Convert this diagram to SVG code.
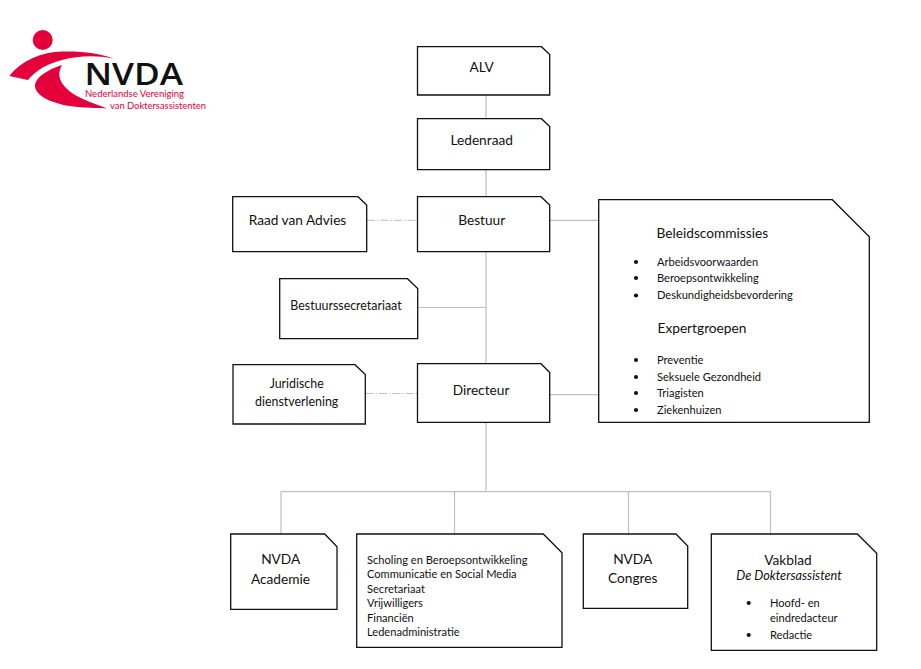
<svg xmlns="http://www.w3.org/2000/svg" width="921" height="669" viewBox="0 0 921 669">
<style>
.box{fill:#fff;stroke:#111;stroke-width:1.3;stroke-linejoin:miter}
.c{fill:none;stroke:#bfbfbf;stroke-width:1.2}
.d{fill:none;stroke:#bfbfbf;stroke-width:1;stroke-dasharray:8 2 1.5 2}
text{font-family:Lato,"Liberation Sans",sans-serif;fill:#111}
.l{font-size:13.7px}
.m{font-size:12.4px}
.s{font-size:11.1px}
.mid{text-anchor:middle}
.b{fill:#111}
.logo{fill:#e4003a}
.rt{fill:#e4003a;font-size:9.4px}
</style>
<g id="connectors">
<path class="c" d="M486 95V119M486 170V197M486 252V364M486 422V491.7M550 220.3H599M550 394.7H599M418 307.5H486M281 491.7H770.5M281 491.7V534M454.5 491.7V534M628.5 491.7V534M770.5 491.7V534"/>
<path class="d" d="M367 220.3H417.5M365.5 393.5H417.5"/>
</g>
<g id="logo">
<circle class="logo" cx="42.7" cy="40" r="10"/>
<path class="logo" d="M9.3 76C22 60 42 52 62 51.500C82 51 100 53 113 58.500C95 55 78 56 62 60C48 63.500 36 70 28 80Z"/>
<path class="logo" d="M62 65C47 70 36 77 35 85C34.500 95 50 103 70 106C85 108 97 108 107 108.500C90 102 74 97 65 87C58 79 58 72 62 65Z"/>
<text x="84.500" y="85" font-size="30" font-weight="600" style="font-family:'Open Sans',sans-serif" textLength="98.500" lengthAdjust="spacingAndGlyphs">NVDA</text>
<text class="rt" x="85" y="96.500" textLength="99" lengthAdjust="spacingAndGlyphs">Nederlandse Vereniging</text>
<text class="rt" x="110" y="109" textLength="96" lengthAdjust="spacingAndGlyphs">van Doktersassistenten</text>
</g>
<g id="alv"><path class="box" d="M417.500 46.700H541.500L549.700 54.500V95H417.500Z"/><text class="l mid" x="481.700" y="72">ALV</text></g>
<g id="ledenraad"><path class="box" d="M417.500 118.700H541.500L549.700 126.500V169.700H417.500Z"/><text class="l mid" x="481.700" y="145">Ledenraad</text></g>
<g id="bestuur"><path class="box" d="M417.500 196.700H541L549.700 205V251.700H417.500Z"/><text class="l mid" x="481.700" y="225">Bestuur</text></g>
<g id="raad"><path class="box" d="M232.700 196.700H358L366.700 205V251.700H232.700Z"/><text class="l mid" x="297.500" y="225">Raad van Advies</text></g>
<g id="secretariaat"><path class="box" d="M279.700 278.700H407.500L417.700 288.500V338.700H279.700Z"/><text class="m mid" x="346" y="310">Bestuurssecretariaat</text></g>
<g id="juridisch"><path class="box" d="M233 364.700H355L365.300 374.500V424H233Z"/><text class="m mid" x="296.700" y="388">Juridische</text><text class="m mid" x="296.700" y="406">dienstverlening</text></g>
<g id="directeur"><path class="box" d="M417.500 363.700H541L549.700 372.500V422.300H417.500Z"/><text class="l mid" x="481" y="395">Directeur</text></g>
<g id="commissies"><path class="box" d="M598.700 199.700H832.300L869.300 236.700V422.300H598.700Z"/>
<text class="l" x="656.500" y="238">Beleidscommissies</text>
<text class="s" x="657" y="266">Arbeidsvoorwaarden</text><circle class="b" cx="636" cy="262" r="2.100"/>
<text class="s" x="657" y="282">Beroepsontwikkeling</text><circle class="b" cx="636" cy="278" r="2.100"/>
<text class="s" x="657" y="299">Deskundigheidsbevordering</text><circle class="b" cx="636" cy="295.500" r="2.100"/>
<text class="l" x="657.500" y="333">Expertgroepen</text>
<text class="s" x="657" y="364">Preventie</text><circle class="b" cx="636" cy="360" r="2.100"/>
<text class="s" x="657" y="381">Seksuele Gezondheid</text><circle class="b" cx="636" cy="377" r="2.100"/>
<text class="s" x="657" y="397">Triagisten</text><circle class="b" cx="636" cy="393" r="2.100"/>
<text class="s" x="657" y="414">Ziekenhuizen</text><circle class="b" cx="636" cy="410" r="2.100"/></g>
<g id="academie"><path class="box" d="M230.700 534H324.700L337 546.700V609.300H230.700Z"/><text class="l mid" x="280.700" y="564">NVDA</text><text class="l mid" x="280.500" y="584">Academie</text></g>
<g id="bureau"><path class="box" d="M356.700 534H543.300L562 552.700V647.300H356.700Z"/>
<text class="s" x="367" y="563.500">Scholing en Beroepsontwikkeling</text>
<text class="s" x="367" y="578">Communicatie en Social Media</text>
<text class="s" x="367" y="593">Secretariaat</text>
<text class="s" x="367" y="607">Vrijwilligers</text>
<text class="s" x="367" y="622">Financiën</text>
<text class="s" x="367" y="636">Ledenadministratie</text></g>
<g id="congres"><path class="box" d="M583.300 534H676L687.700 546V608.300H583.300Z"/><text class="l mid" x="632.700" y="564">NVDA</text><text class="l mid" x="632.700" y="583">Congres</text></g>
<g id="vakblad"><path class="box" d="M711.300 534H857.300L876.700 553.300V650.300H711.300Z"/>
<text class="l mid" x="788" y="565">Vakblad</text>
<text class="mid" font-size="12.700" x="789" y="580" font-style="italic">De Doktersassistent</text>
<text class="s" x="770" y="607">Hoofd- en</text><circle class="b" cx="748.700" cy="603" r="2.100"/>
<text class="s" x="770" y="622">eindredacteur</text>
<text class="s" x="770" y="639">Redactie</text><circle class="b" cx="748.700" cy="635" r="2.100"/></g>
</svg>
